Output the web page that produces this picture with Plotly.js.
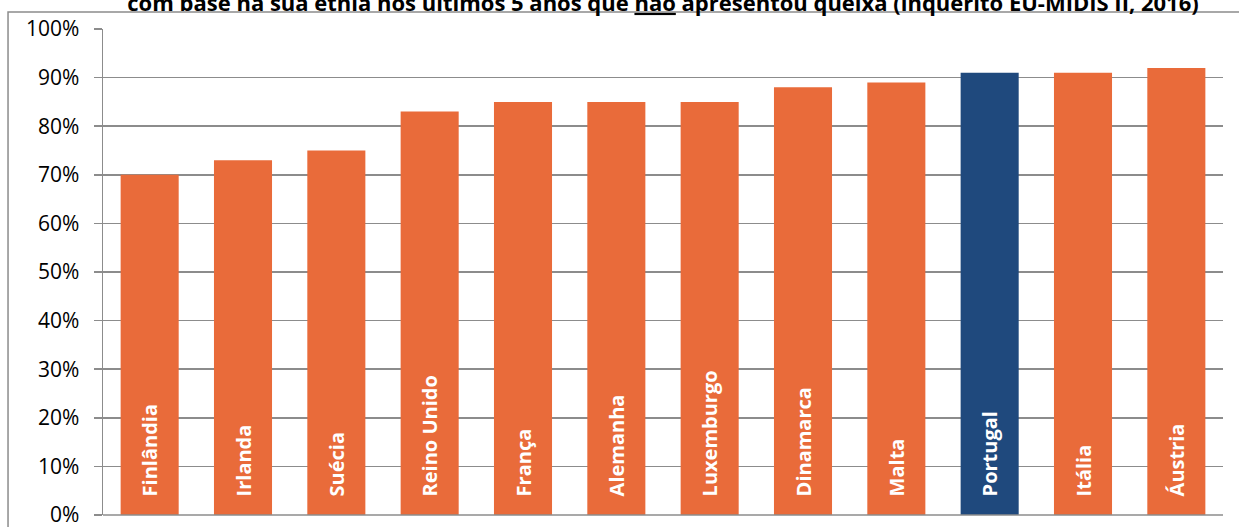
<!DOCTYPE html>
<html><head><meta charset="utf-8">
<script src="https://cdn.plot.ly/plotly-3.0.1.min.js"></script>
<style>html,body{margin:0;padding:0;background:#fff;}#chart{width:1239px;height:527px;}</style>
</head><body><div id="chart"></div>
<script>
const countries = ["Finlândia","Irlanda","Suécia","Reino Unido","França","Alemanha","Luxemburgo","Dinamarca","Malta","Portugal","Itália","Áustria"];
const values = [70,73,75,83,85,85,85,88,89,91,91,92];
const highlight = "Portugal";
const tickVals = [0,10,20,30,40,50,60,70,80,90,100];
const tickText = ["0%","10%","20%","30%","40%","50%","60%","70%","80%","90%","100%"];
const titleText = "com base na sua etnia nos últimos 5 anos que <u>não</u> apresentou queixa (inquérito EU-MIDIS II, 2016)";

const orange = "#E96B3A", blue = "#1F497D";
const pad = "\u00a0\u00a0\u00a0";
const trace = {
  type: "bar",
  x: countries,
  y: values,
  marker: {color: countries.map(c => c === highlight ? blue : orange)},
  text: countries.map(c => pad + c),
  textposition: "inside",
  insidetextanchor: "start",
  textangle: -90,
  textfont: {family: "Open Sans", size: 20, color: "#ffffff", weight: "bold"},
  hoverinfo: "none",
  cliponaxis: false
};
const layout = {
  width: 1239, height: 527,
  margin: {l: 103, r: 16, t: 29, b: 12},
  paper_bgcolor: "#ffffff", plot_bgcolor: "#ffffff",
  bargap: 0.378,
  showlegend: false,
  title: {text: "<b>" + titleText + "</b>", x: 0.5, xanchor: "center", xref: "paper",
          y: 0.994, yref: "container", yanchor: "middle",
          font: {family: "Open Sans", size: 22, color: "#000"}},
  xaxis: {showticklabels: false, showgrid: false, zeroline: false, showline: false, ticks: ""},
  yaxis: {range: [0, 100], tickvals: tickVals, ticktext: tickText,
          showgrid: true, gridcolor: "#8c8c8c", gridwidth: 1.5,
          showline: true, linecolor: "#8c8c8c", linewidth: 1.5,
          ticks: "outside", ticklen: 8, tickcolor: "#8c8c8c", tickwidth: 1.5,
          ticklabelstandoff: 10, ticklabeloverflow: "allow",
          zeroline: false,
          tickfont: {family: "Open Sans", size: 21, color: "#000"}},
  shapes: [
    {type: "rect", xref: "paper", yref: "paper", x0: -0.0848, x1: 1.03, y0: -0.05, y1: 1.035,
     line: {color: "#8c8c8c", width: 1.5}, fillcolor: "rgba(0,0,0,0)", layer: "below"},
    {type: "line", xref: "paper", yref: "paper", x0: 0, x1: 1, y0: 0, y1: 0,
     line: {color: "#8c8c8c", width: 1.5}}
  ]
};
Plotly.newPlot("chart", [trace], layout, {staticPlot: true});
</script></body></html>
